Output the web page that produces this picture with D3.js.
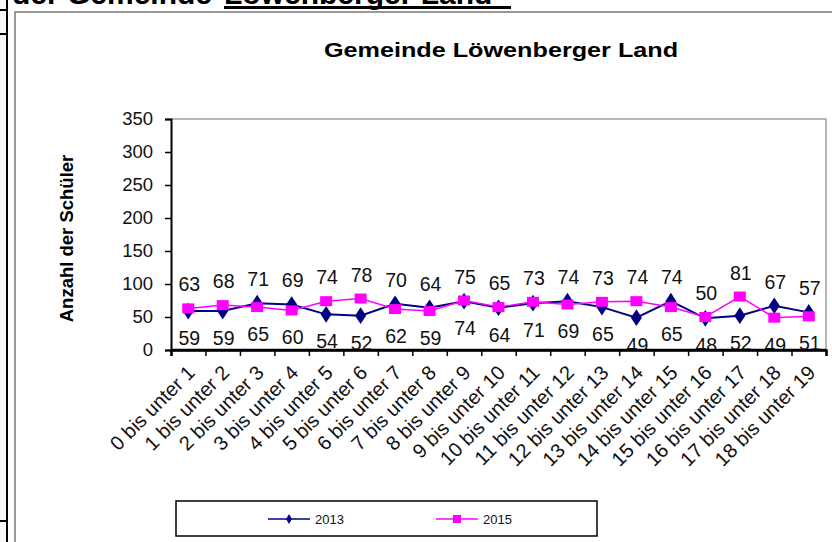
<!DOCTYPE html>
<html>
<head>
<meta charset="utf-8">
<script src="https://cdn.jsdelivr.net/npm/d3@7"></script>
<style>
  body { margin: 0; background: #fff; }
  svg { display: block; font-family: Arial, "Liberation Sans", sans-serif; }
</style>
</head>
<body>
<div id="chart"></div>
<script>
// age groups
const categories = [
  "0 bis unter 1", "1 bis unter 2", "2 bis unter 3", "3 bis unter 4", "4 bis unter 5",
  "5 bis unter 6", "6 bis unter 7", "7 bis unter 8", "8 bis unter 9", "9 bis unter 10",
  "10 bis unter 11", "11 bis unter 12", "12 bis unter 13", "13 bis unter 14", "14 bis unter 15",
  "15 bis unter 16", "16 bis unter 17", "17 bis unter 18", "18 bis unter 19"
];
const values2013 = [59, 59, 71, 69, 54, 52, 70, 64, 74, 64, 71, 74, 65, 49, 74, 48, 52, 67, 57];
const values2015 = [63, 68, 65, 60, 74, 78, 62, 59, 75, 65, 73, 69, 73, 74, 65, 50, 81, 49, 51];
const yTicks = [0, 50, 100, 150, 200, 250, 300, 350];

const W = 832, H = 542;
const plot = { left: 171, right: 826, top: 119, bottom: 350 };

const svg = d3.select("#chart").append("svg")
  .attr("width", W).attr("height", H);

// page bits around the chart (cut-off heading + frame)
svg.append("rect").attr("x", 0).attr("y", 0).attr("width", 7).attr("height", H).attr("fill", "#f7f7f7");
svg.append("line").attr("x1", 7).attr("x2", 7).attr("y1", 0).attr("y2", H)
  .attr("stroke", "#000").attr("stroke-width", 2);
[10, 34, 521].forEach(y => {
  svg.append("line").attr("x1", 0).attr("x2", 7).attr("y1", y).attr("y2", y)
    .attr("stroke", "#000").attr("stroke-width", 2);
});
svg.append("rect").attr("x", 15).attr("y", 12).attr("width", 840).attr("height", 600)
  .attr("fill", "#fff").attr("stroke", "#777").attr("stroke-width", 1.5);

svg.append("text").attr("x", 212).attr("y", 4).attr("text-anchor", "end")
  .attr("font-size", 30).attr("font-weight", "bold").text("der Gemeinde");
svg.append("text").attr("x", 224).attr("y", 4)
  .attr("font-size", 30).attr("font-weight", "bold").text("Löwenberger Land");
svg.append("rect").attr("x", 224).attr("y", 6).attr("width", 287).attr("height", 3).attr("fill", "#000");

// chart title
svg.append("text")
  .attr("transform", "translate(501,57) scale(1.2,1)")
  .attr("text-anchor", "middle").attr("font-size", 21).attr("font-weight", "bold")
  .text("Gemeinde Löwenberger Land");

// scales
const x = d3.scaleBand().domain(categories).range([plot.left, plot.right]).padding(0);
const xIdx = d3.scaleLinear().domain([0, categories.length]).range([plot.left, plot.right]);
const y = d3.scaleLinear().domain([0, 350]).range([plot.bottom, plot.top]);
const cx = d => x(d) + x.bandwidth() / 2;

// plot border (top + right grey)
svg.append("path")
  .attr("d", `M${plot.left},${plot.top}H${plot.right}V${plot.bottom}`)
  .attr("fill", "none").attr("stroke", "#a0a0a0").attr("stroke-width", 1.5);

// y axis
const yAxis = svg.append("g").attr("transform", `translate(${plot.left},0)`)
  .call(d3.axisLeft(y).tickValues(yTicks).tickSize(6).tickPadding(12));
yAxis.select(".domain").attr("stroke", "#000").attr("stroke-width", 2);
yAxis.selectAll(".tick line").attr("stroke", "#000").attr("stroke-width", 1.5);
yAxis.selectAll(".tick text").attr("font-size", 18.5).attr("fill", "#111")
  .attr("font-family", "Arial, 'Liberation Sans', sans-serif");

// x axis (ticks between categories)
const xAxis = svg.append("g").attr("transform", `translate(0,${plot.bottom})`)
  .call(d3.axisBottom(xIdx).tickValues(d3.range(categories.length + 1)).tickFormat("").tickSize(6));
xAxis.select(".domain").attr("stroke", "#000").attr("stroke-width", 2.5);
xAxis.selectAll(".tick line").attr("stroke", "#000").attr("stroke-width", 1.5);

svg.append("g").selectAll("text").data(categories).join("text")
  .attr("transform", d => `translate(${cx(d) - 2},${plot.bottom + 14}) rotate(-45)`)
  .attr("text-anchor", "end").attr("dy", "0.7em")
  .attr("font-size", 20).attr("fill", "#111")
  .text(d => d);

// y title
svg.append("text")
  .attr("transform", `translate(73,${(plot.top + plot.bottom) / 2 + 4}) rotate(-90)`)
  .attr("text-anchor", "middle").attr("font-size", 18.5).attr("font-weight", "bold")
  .text("Anzahl der Schüler");

// lines
const series = [
  { name: "2013", values: values2013, color: "#000080", width: 2 },
  { name: "2015", values: values2015, color: "#ff00ff", width: 1.5 }
];
const line = d3.line().x((v, i) => cx(categories[i])).y(v => y(v));
series.forEach(s => {
  svg.append("path").datum(s.values).attr("d", line)
    .attr("fill", "none").attr("stroke", s.color).attr("stroke-width", s.width);
});

const diamond = d3.symbol().type(d3.symbolDiamond).size(80);
svg.append("g").selectAll("path").data(values2013).join("path")
  .attr("d", diamond)
  .attr("transform", (v, i) => `translate(${cx(categories[i])},${y(v)}) scale(1.15,1)`)
  .attr("fill", "#000080");

svg.append("g").selectAll("rect").data(values2015).join("rect")
  .attr("x", (v, i) => cx(categories[i]) - 6).attr("y", v => y(v) - 5)
  .attr("width", 12).attr("height", 10)
  .attr("fill", "#ff00ff");

// data labels: higher value above, lower value below
svg.append("clipPath").attr("id", "plotclip").append("rect")
  .attr("x", plot.left).attr("y", plot.top).attr("width", plot.right - plot.left)
  .attr("height", plot.bottom - plot.top - 1);
const labels = svg.append("g").attr("clip-path", "url(#plotclip)");
categories.forEach((c, i) => {
  const hi = Math.max(values2013[i], values2015[i]);
  const lo = Math.min(values2013[i], values2015[i]);
  labels.append("text").attr("x", cx(c) + 1).attr("y", y(hi) - 17)
    .attr("text-anchor", "middle").attr("font-size", 19.5).attr("fill", "#111").text(hi);
  labels.append("text").attr("x", cx(c) + 1).attr("y", y(lo) + 34)
    .attr("text-anchor", "middle").attr("font-size", 19.5).attr("fill", "#111").text(lo);
});
// redraw the axis line over clipped labels
svg.append("line").attr("x1", plot.left).attr("x2", plot.right)
  .attr("y1", plot.bottom).attr("y2", plot.bottom)
  .attr("stroke", "#000").attr("stroke-width", 2.5);

// legend
const legend = svg.append("g");
legend.append("rect").attr("x", 176).attr("y", 501).attr("width", 421).attr("height", 35)
  .attr("fill", "#fff").attr("stroke", "#000").attr("stroke-width", 1.5);
const legendX = [268, 436];
series.forEach((s, k) => {
  const lx = legendX[k], ly = 519;
  legend.append("line").attr("x1", lx).attr("x2", lx + 42).attr("y1", ly).attr("y2", ly)
    .attr("stroke", s.color).attr("stroke-width", 1.5);
  if (k === 0) {
    legend.append("path").attr("d", d3.symbol().type(d3.symbolDiamond).size(30))
      .attr("transform", `translate(${lx + 21},${ly})`).attr("fill", s.color);
  } else {
    legend.append("rect").attr("x", lx + 17).attr("y", ly - 4).attr("width", 8).attr("height", 8)
      .attr("fill", s.color);
  }
  legend.append("text").attr("x", lx + 47).attr("y", ly + 5)
    .attr("font-size", 13).attr("fill", "#111").text(s.name);
});
</script>
</body>
</html>
